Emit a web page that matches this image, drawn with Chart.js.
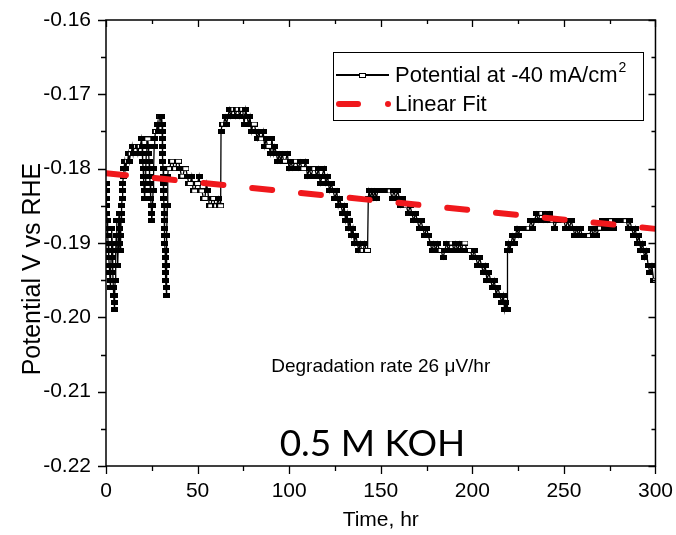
<!DOCTYPE html>
<html lang="en">
<head>
<meta charset="UTF-8">
<title>Potential vs time, 0.5 M KOH</title>
<script src="https://cdn.jsdelivr.net/npm/chart.js"></script>
<style>
  body { margin: 0; background: #fff; }
  #wrap { width: 676px; height: 535px; }
</style>
</head>
<body>
<div id="wrap"><canvas id="potChart" width="676" height="535"></canvas></div>
<script>
// time in hours, potential in V vs RHE
const timeHr = [
  0.0, 0.1, 0.2, 0.3, 0.4, 0.6, 0.8, 1.0, 1.2, 1.4,
  1.6, 1.8, 2.0, 2.2, 2.4, 2.6, 2.8, 3.0, 3.2, 3.4,
  3.6, 3.8, 4.0, 4.2, 4.4, 4.6, 4.8, 5.0, 5.2, 5.4,
  5.6, 5.8, 6.0, 6.2, 6.4, 6.6, 6.8, 7.0, 7.2, 7.4,
  7.6, 7.8, 8.0, 8.2, 8.4, 8.6, 8.8, 9.0, 9.2, 9.5,
  9.8, 10.3, 10.8, 11.3, 11.8, 12.3, 12.8, 13.3, 13.8, 14.3,
  14.8, 15.3, 16.0, 16.7, 17.4, 18.0, 18.7, 19.4,
  19.7, 19.9, 20.1, 20.3, 20.5, 20.7, 20.9, 21.1, 21.4, 21.7,
  22.0, 22.3, 22.8, 23.1, 23.3, 23.5, 23.7, 23.9, 24.1, 24.3,
  24.5, 24.7, 24.9, 25.1, 25.4, 25.7, 26.0, 26.3, 26.6, 27.0,
  27.5, 28.0, 28.4, 28.8, 29.2, 29.7, 30.1, 30.4,
  30.6, 30.7, 30.8, 30.9, 31.0, 31.1, 31.2, 31.3, 31.4, 31.5,
  31.6, 31.7, 31.8, 31.9, 32.0, 32.1, 32.2, 32.3, 32.4, 32.5,
  32.6, 32.7, 32.8, 32.9, 33.1, 33.3, 33.5, 33.7, 34.0,
  34.8, 35.6, 36.4, 37.2, 38.0, 38.8, 39.6, 40.4, 41.2, 42.0,
  42.8, 43.6, 44.4, 45.2, 46.0, 46.8, 47.6, 48.4, 49.2, 50.0,
  50.8, 51.6, 52.4, 53.2, 54.0, 54.8, 55.6, 56.4, 57.2, 58.0,
  58.8, 59.6, 60.4, 61.2, 62.0, 62.6,
  62.8, 63.4, 64.2, 65.0, 65.8, 66.6, 67.4, 68.2, 69.0, 69.8,
  70.6, 71.4, 72.2, 73.0, 73.8, 74.6, 75.4, 76.2, 77.0, 77.8,
  78.6, 79.4, 80.2, 81.0, 81.8, 82.6, 83.4, 84.2, 85.0, 85.8,
  86.6, 87.4, 88.2, 89.0, 89.8, 90.6, 91.4, 92.2, 93.0, 93.8,
  94.6, 95.4, 96.2, 97.0, 98.0, 99.0, 100.0, 101.0, 102.0, 103.0,
  104.0, 105.0, 106.0, 107.0, 108.0, 109.0, 110.0, 111.0, 112.0, 113.0,
  114.0, 115.0, 116.0, 117.0, 118.0, 119.0, 120.0, 121.0, 122.0, 123.0,
  124.0, 125.0, 126.0, 126.8, 127.6, 128.4, 129.2, 130.0, 130.8, 131.6,
  132.4, 133.2, 134.0, 134.8, 135.6, 136.4, 137.2, 138.0, 138.8, 139.6,
  140.4, 141.2, 142.0, 142.8,
  143.2, 143.6, 144.4, 145.2, 146.0, 146.8, 147.6, 148.4, 149.2, 150.2,
  151.2, 152.2, 153.2, 154.2, 155.2, 156.2, 157.2, 158.2, 159.2, 160.2,
  161.0, 162.0, 163.0, 164.0, 165.0, 166.0, 167.0, 168.0, 169.0, 170.0,
  171.0, 172.0, 173.0, 174.0, 175.0, 176.0, 177.0, 178.0, 179.0, 180.0,
  181.0, 182.0, 183.0, 184.0, 185.0, 186.0, 187.0, 188.0, 189.0, 190.0,
  191.0, 192.0, 193.0, 194.0, 195.0, 196.0, 197.0, 198.0, 199.0, 200.0,
  201.0, 202.0, 203.0, 204.0, 205.0, 206.0, 207.0, 208.0, 209.0, 210.0,
  211.0, 212.0, 213.0, 214.0, 215.0, 216.0, 217.0, 217.6, 218.3, 219.0,
  219.2, 219.8, 220.5, 221.2, 222.0, 222.8, 223.6, 224.4, 225.2, 226.0,
  227.0, 228.0, 229.0, 230.0, 231.0, 232.0, 233.0, 234.0, 235.0, 236.0,
  237.0, 238.0, 239.0, 240.0, 241.0, 242.0, 243.0, 244.0, 245.0, 246.0,
  247.0, 248.0, 249.0, 250.0, 251.0, 252.0, 253.0, 254.0, 255.0, 256.0,
  257.0, 258.0, 259.0, 260.0, 261.0, 262.0, 263.0, 264.0, 265.0, 266.0,
  267.0, 268.0, 269.0, 270.0, 271.0, 272.0, 273.0, 274.0, 275.0, 276.0,
  277.0, 278.0, 279.0, 280.0, 281.0, 282.0, 283.0, 284.0, 285.0, 286.0,
  287.0, 288.0, 289.0, 290.0, 291.0, 292.0, 293.0, 294.0, 295.0, 296.0,
  297.0, 298.0, 299.0, 300.0
];
const potentialV = [
  -0.182, -0.183, -0.184, -0.185, -0.186, -0.187, -0.188, -0.189, -0.190, -0.191,
  -0.192, -0.193, -0.194, -0.195, -0.196, -0.194, -0.192, -0.190, -0.188, -0.190,
  -0.192, -0.194, -0.196, -0.197, -0.198, -0.199, -0.197, -0.195, -0.193, -0.191,
  -0.189, -0.187, -0.189, -0.191, -0.193, -0.191, -0.189, -0.187, -0.186, -0.188,
  -0.190, -0.191, -0.189, -0.187, -0.186, -0.185, -0.184, -0.183, -0.182, -0.181,
  -0.180, -0.179, -0.180, -0.179, -0.179, -0.178, -0.179, -0.178, -0.178, -0.177,
  -0.178, -0.177, -0.177, -0.177, -0.178, -0.177, -0.177, -0.176,
  -0.177, -0.178, -0.179, -0.180, -0.181, -0.182, -0.183, -0.184, -0.182, -0.180,
  -0.178, -0.176, -0.176, -0.177, -0.178, -0.179, -0.180, -0.181, -0.182, -0.183,
  -0.184, -0.185, -0.186, -0.187, -0.185, -0.183, -0.180, -0.177, -0.176, -0.175,
  -0.175, -0.174, -0.175, -0.174, -0.173, -0.173, -0.174, -0.173,
  -0.174, -0.175, -0.176, -0.177, -0.178, -0.179, -0.180, -0.181, -0.182, -0.183,
  -0.184, -0.185, -0.186, -0.187, -0.188, -0.189, -0.190, -0.191, -0.192, -0.193,
  -0.194, -0.195, -0.196, -0.197, -0.193, -0.189, -0.185, -0.181, -0.180,
  -0.180, -0.179, -0.179, -0.180, -0.180, -0.179, -0.179, -0.180, -0.181, -0.181,
  -0.180, -0.180, -0.181, -0.182, -0.182, -0.181, -0.183, -0.183, -0.182, -0.182,
  -0.181, -0.183, -0.183, -0.184, -0.184, -0.182, -0.183, -0.185, -0.185, -0.184,
  -0.184, -0.185, -0.185, -0.184, -0.185, -0.185,
  -0.175, -0.174, -0.174, -0.173, -0.174, -0.173, -0.172, -0.173, -0.172, -0.172,
  -0.173, -0.172, -0.172, -0.173, -0.172, -0.172, -0.174, -0.172, -0.173, -0.174,
  -0.173, -0.175, -0.174, -0.174, -0.175, -0.176, -0.175, -0.176, -0.176, -0.175,
  -0.177, -0.176, -0.177, -0.177, -0.178, -0.176, -0.178, -0.177, -0.178, -0.179,
  -0.178, -0.179, -0.178, -0.179, -0.179, -0.178, -0.180, -0.179, -0.180, -0.179,
  -0.179, -0.180, -0.179, -0.180, -0.180, -0.179, -0.181, -0.180, -0.181, -0.180,
  -0.180, -0.181, -0.180, -0.182, -0.181, -0.180, -0.182, -0.181, -0.183, -0.182,
  -0.183, -0.184, -0.183, -0.185, -0.184, -0.185, -0.186, -0.185, -0.187, -0.186,
  -0.188, -0.187, -0.189, -0.188, -0.190, -0.189, -0.190, -0.191, -0.190, -0.191,
  -0.191, -0.190, -0.191, -0.191,
  -0.184, -0.183, -0.184, -0.183, -0.184, -0.183, -0.184, -0.183, -0.183, -0.183,
  -0.183, -0.183, -0.183, -0.183, -0.183, -0.184, -0.183, -0.184, -0.183, -0.184,
  -0.185, -0.184, -0.185, -0.185, -0.186, -0.185, -0.186, -0.187, -0.186, -0.187,
  -0.188, -0.187, -0.188, -0.189, -0.188, -0.189, -0.190, -0.191, -0.190, -0.191,
  -0.190, -0.191, -0.191, -0.192, -0.191, -0.190, -0.191, -0.190, -0.190, -0.191,
  -0.190, -0.191, -0.190, -0.191, -0.190, -0.190, -0.191, -0.191, -0.191, -0.192,
  -0.191, -0.192, -0.193, -0.192, -0.193, -0.194, -0.193, -0.195, -0.194, -0.195,
  -0.196, -0.195, -0.197, -0.196, -0.197, -0.198, -0.197, -0.199, -0.198, -0.199,
  -0.191, -0.190, -0.191, -0.190, -0.189, -0.190, -0.189, -0.188, -0.189, -0.188,
  -0.188, -0.188, -0.188, -0.188, -0.188, -0.187, -0.188, -0.187, -0.186, -0.187,
  -0.186, -0.186, -0.187, -0.186, -0.187, -0.186, -0.187, -0.187, -0.188, -0.187,
  -0.187, -0.187, -0.187, -0.187, -0.188, -0.187, -0.188, -0.187, -0.188, -0.189,
  -0.188, -0.189, -0.188, -0.189, -0.189, -0.189, -0.189, -0.189, -0.188, -0.189,
  -0.188, -0.189, -0.188, -0.188, -0.187, -0.188, -0.187, -0.188, -0.187, -0.187,
  -0.188, -0.187, -0.187, -0.187, -0.187, -0.187, -0.187, -0.187, -0.188, -0.187,
  -0.188, -0.189, -0.188, -0.190, -0.189, -0.191, -0.190, -0.192, -0.191, -0.193,
  -0.194, -0.193, -0.195, -0.195
];
// linear fit end points
const fitTime = [0, 300];
const fitPotential = [-0.1806, -0.1881];

const xTicks = [0, 50, 100, 150, 200, 250, 300];
const yTicks = [-0.22, -0.21, -0.20, -0.19, -0.18, -0.17, -0.16];

const seriesLabel = 'Potential at -40 mA/cm';
const fitLabel = 'Linear Fit';
const yTitle = 'Potential V vs RHE';
const rateNote = 'Degradation rate 26 \u03BCV/hr';
const electrolyte = '0.5 M KOH';

const FONT = "'Liberation Sans', Arial, sans-serif";
const RED = 'rgb(240, 24, 28)';

if (timeHr.length !== potentialV.length) console.error('length mismatch', timeHr.length, potentialV.length);

// small rectangular symbols like the original (solid, and hollow at run ends)
function makeMarker(hollow) {
  const c = document.createElement('canvas');
  c.width = 7; c.height = 5;
  const g = c.getContext('2d');
  g.fillStyle = '#000';
  g.fillRect(0, 0, 7, 5);
  if (hollow) { g.fillStyle = '#fff'; g.fillRect(1, 1, 5, 3); }
  return c;
}
const solidMark = makeMarker(false);
const hollowMark = makeMarker(true);

// frame with outward ticks on left/bottom and inward ticks on top/right
const framePlugin = {
  id: 'frame',
  afterDatasetsDraw(chart) {
    const { ctx, chartArea: a, scales: { x, y } } = chart;
    ctx.save();
    ctx.strokeStyle = '#000';
    ctx.lineWidth = 1.5;
    ctx.strokeRect(a.left, a.top, a.right - a.left, a.bottom - a.top);
    ctx.lineWidth = 1.3;
    ctx.beginPath();
    const xt = (v, len) => {
      const p = Math.round(x.getPixelForValue(v)) + 0.5;
      ctx.moveTo(p, a.bottom); ctx.lineTo(p, a.bottom + len);
      ctx.moveTo(p, a.top); ctx.lineTo(p, a.top + len - 1);
    };
    const yt = (v, len) => {
      const p = Math.round(y.getPixelForValue(v)) + 0.5;
      ctx.moveTo(a.left, p); ctx.lineTo(a.left - len, p);
      ctx.moveTo(a.right, p); ctx.lineTo(a.right - len + 1, p);
    };
    xTicks.forEach((v, i) => {
      xt(v, 8);
      if (i < xTicks.length - 1) xt((v + xTicks[i + 1]) / 2, 5);
    });
    yTicks.forEach((v, i) => {
      yt(v, 8);
      if (i < yTicks.length - 1) yt((v + yTicks[i + 1]) / 2, 5);
    });
    ctx.stroke();
    ctx.restore();
  },
  afterDraw(chart) {
    const { ctx, scales: { x, y } } = chart;
    ctx.save();
    // y axis title, sits a little below the axis middle in the original
    ctx.save();
    ctx.translate(33, y.getPixelForValue(-0.1935));
    ctx.rotate(-Math.PI / 2);
    ctx.fillStyle = '#000';
    ctx.font = '25px ' + FONT;
    ctx.textAlign = 'center';
    ctx.textBaseline = 'middle';
    ctx.fillText(yTitle, 0, 0);
    ctx.restore();

    // legend box
    const bx = 333, by = 52, bw = 310, bh = 68;
    ctx.strokeStyle = '#000';
    ctx.lineWidth = 1;
    ctx.strokeRect(bx + 0.5, by + 0.5, bw, bh);
    const r1 = by + 23, r2 = by + 52;
    ctx.lineWidth = 2;
    ctx.beginPath(); ctx.moveTo(bx + 3, r1); ctx.lineTo(bx + 56, r1); ctx.stroke();
    ctx.drawImage(hollowMark, bx + 26, r1 - 2);
    ctx.strokeStyle = RED;
    ctx.lineWidth = 6;
    ctx.lineCap = 'round';
    ctx.beginPath(); ctx.moveTo(bx + 6, r2); ctx.lineTo(bx + 25, r2); ctx.stroke();
    ctx.fillStyle = RED;
    ctx.beginPath(); ctx.arc(bx + 55, r2, 3, 0, Math.PI * 2); ctx.fill();

    ctx.fillStyle = '#000';
    ctx.textBaseline = 'middle';
    ctx.textAlign = 'left';
    ctx.font = '22px ' + FONT;
    ctx.fillText(seriesLabel, bx + 62, r1 + 1);
    const w = ctx.measureText(seriesLabel).width;
    ctx.font = '14px ' + FONT;
    ctx.fillText('2', bx + 62 + w + 1, r1 - 7);
    ctx.font = '22px ' + FONT;
    ctx.fillText(fitLabel, bx + 62, r2 + 1);

    // notes placed in data coordinates
    ctx.textAlign = 'center';
    ctx.font = '19px ' + FONT;
    ctx.fillText(rateNote, x.getPixelForValue(150), y.getPixelForValue(-0.2067));
    ctx.font = "37px Lato, 'Open Sans', sans-serif";
    ctx.textBaseline = 'alphabetic';
    ctx.fillText(electrolyte, x.getPixelForValue(145.5), y.getPixelForValue(-0.2187));
    ctx.restore();
  }
};

const seriesPoints = timeHr.map((t, i) => ({ x: t, y: potentialV[i] }));
const fitPoints = fitTime.map((t, i) => ({ x: t, y: fitPotential[i] }));

new Chart(document.getElementById('potChart'), {
  type: 'line',
  data: {
    datasets: [
      {
        label: fitLabel,
        data: fitPoints,
        borderColor: RED,
        borderWidth: 6,
        borderDash: [20, 29],
        borderCapStyle: 'round',
        pointRadius: 0,
        fill: false
      },
      {
        label: seriesLabel,
        data: seriesPoints,
        borderColor: '#000',
        borderWidth: 1.3,
        pointRadius: 3,
        pointStyle: c => {
          const i = c.dataIndex;
          const v = potentialV[i];
          const endOfRun = i > 0 && potentialV[i - 1] === v && potentialV[i + 1] !== v;
          return endOfRun ? hollowMark : solidMark;
        },
        fill: false
      }
    ]
  },
  options: {
    responsive: false,
    animation: false,
    events: [],
    layout: { padding: { top: 20, right: 19, left: 0, bottom: 0 } },
    plugins: { legend: { display: false }, tooltip: { enabled: false } },
    scales: {
      x: {
        type: 'linear',
        min: 0,
        max: 300,
        afterFit: s => { s.height = 69; },
        afterBuildTicks: s => { s.ticks = xTicks.map(v => ({ value: v })); },
        ticks: { color: '#000', font: { family: FONT, size: 21 }, padding: 3, autoSkip: false, maxRotation: 0 },
        grid: { drawOnChartArea: false, tickLength: 10, tickColor: 'rgba(0,0,0,0)' },
        border: { display: false },
        title: { display: true, text: 'Time, hr', color: '#000', font: { family: FONT, size: 21 }, padding: { top: 0, bottom: 2 } }
      },
      y: {
        min: -0.22,
        max: -0.16,
        afterFit: s => { s.width = 106; },
        afterBuildTicks: s => { s.ticks = yTicks.map(v => ({ value: v })); },
        ticks: { color: '#000', font: { family: FONT, size: 21 }, padding: 3, callback: v => v.toFixed(2) },
        grid: { drawOnChartArea: false, tickLength: 12, tickColor: 'rgba(0,0,0,0)' },
        border: { display: false }
      }
    }
  },
  plugins: [framePlugin]
});
</script>
</body>
</html>
